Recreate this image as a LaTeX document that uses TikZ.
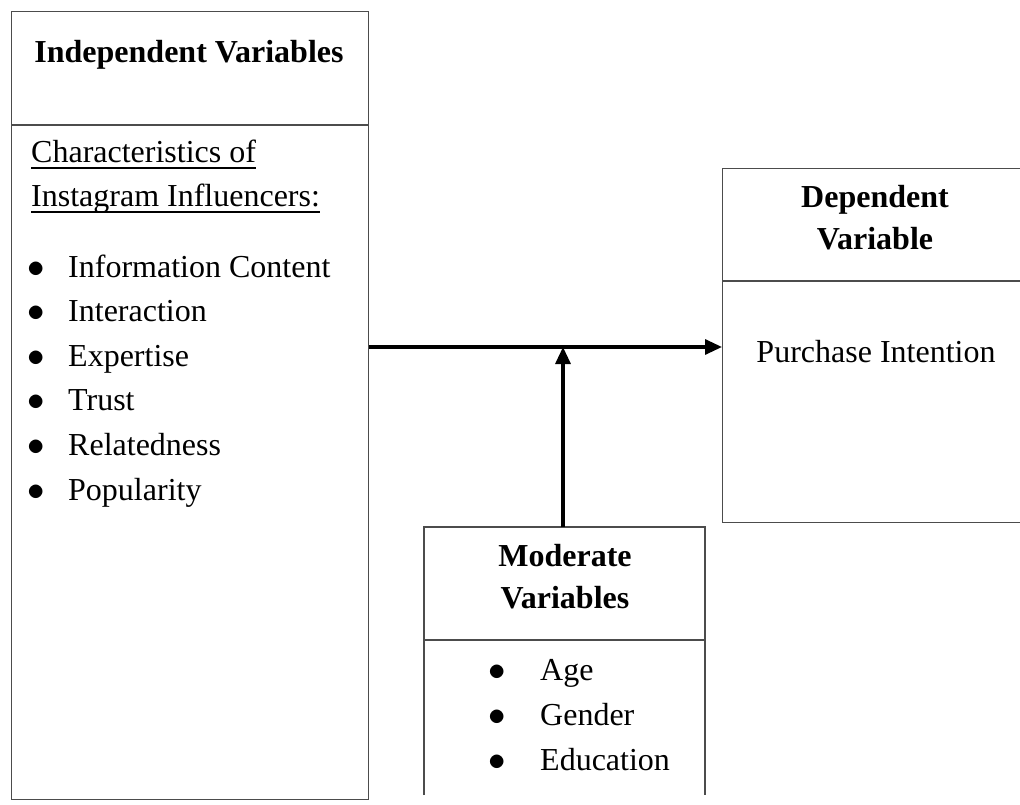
\documentclass[tikz,border=0pt]{standalone}
\usepackage{fontspec}
\setmainfont{Liberation Serif}
\usetikzlibrary{arrows.meta}
\newcommand{\bigdot}{\scalebox{1.4}{$\bullet$}}

\begin{document}
\begin{tikzpicture}[x=1pt,y=-1pt,>={Triangle[length=17pt,width=15pt]},
    frame/.style={draw=black!70,line width=1.4pt,inner sep=0pt,anchor=north west},
    rule/.style={draw=black!70,line width=1.4pt},
    txt/.style={inner sep=0pt,anchor=base west,font=\fontsize{32}{44.5}\selectfont},
    hd/.style={inner sep=0pt,anchor=base,align=center,font=\fontsize{32}{41.5}\selectfont\bfseries},
    link/.style={->,line width=3.2pt}]
  \useasboundingbox (0,0) rectangle (1020,805);
  % boxes
  \node[frame,minimum width=357pt,minimum height=788pt] (ivbox) at (11,11) {};
  \node[frame,minimum width=306pt,minimum height=354pt] (dvbox) at (722,168) {};
  \draw[rule] (424,795) |- (705,527) -- (705,795);
  \draw[rule] (11,125) -- (368,125) (722,281) -- (1028,281) (424,640) -- (705,640);
  % headings (base = last line)
  \node[hd] (ivhead) at (189,63) {Independent Variables};
  \node[hd] (dvhead) at (875,249) {Dependent\\Variable};
  \node[hd] (mvhead) at (565,608) {Moderate\\Variables};
  % independent side
  \node[txt] (char1) at (31,163) {Characteristics of};
  \node[txt] (char2) at (31,207) {Instagram Influencers:};
  \draw[line width=1.3pt] ([yshift=-5pt]char1.base west) -- ([yshift=-5pt]char1.base east);
  \draw[line width=1.3pt] ([yshift=-5pt]char2.base west) -- ([yshift=-5pt]char2.base east);
  \foreach \lbl [count=\i from 0] in {Information Content,Interaction,Expertise,Trust,Relatedness,Popularity}{
    \node[txt] (ivbul\i) at (27,{277+44.6*\i}) {\bigdot};
    \node[txt] (ivitem\i) at (68,{277+44.6*\i}) {\lbl};
  }
  % dependent side
  \node[txt,anchor=base] (dvtext) at (876,362) {Purchase Intention};
  % moderators
  \foreach \lbl [count=\i from 0] in {Age,Gender,Education}{
    \node[txt] (mvbul\i) at (488,{680+45*\i}) {\bigdot};
    \node[txt] (mvitem\i) at (540,{680+45*\i}) {\lbl};
  }
  % arrows
  \coordinate (join) at (563,347);
  \coordinate (mvtop) at (563,527);
  \draw[link] (ivbox.east |- join) -- (dvbox.west |- join);
  \draw[link] (mvtop) -- (join);
\end{tikzpicture}
\end{document}
